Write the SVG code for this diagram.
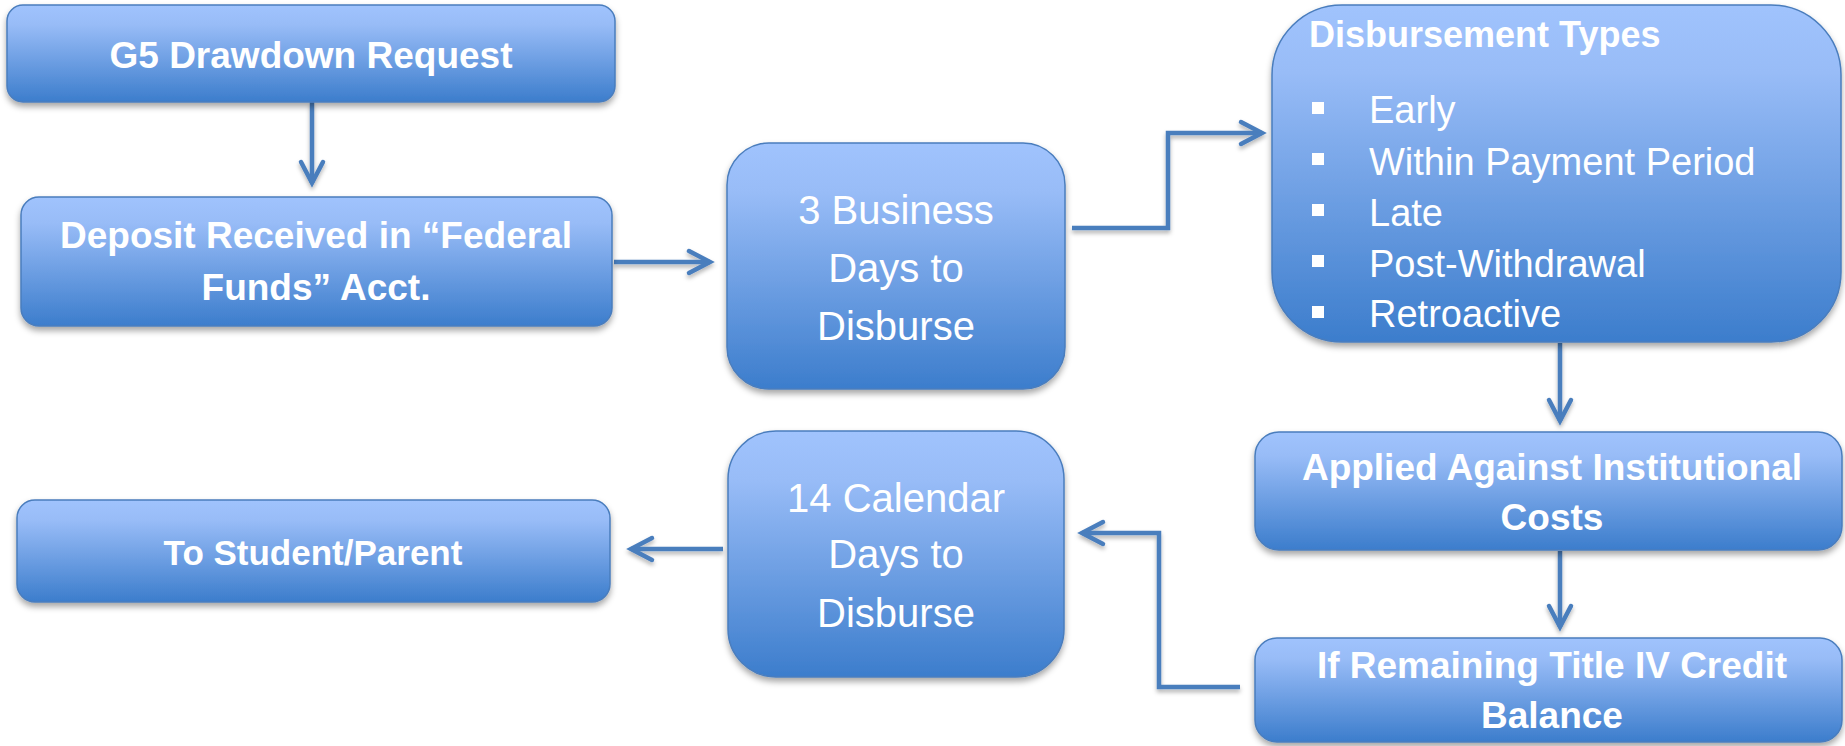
<svg xmlns="http://www.w3.org/2000/svg" width="1845" height="746" viewBox="0 0 1845 746">
<style>
.box{fill:url(#g);stroke:#4a7dbd;stroke-width:1.5;filter:url(#sh)}
.b{font-family:"Liberation Sans",Arial,sans-serif;font-weight:bold;font-size:37px;fill:#fff;text-anchor:middle}
.r{font-family:"Liberation Sans",Arial,sans-serif;font-size:40px;fill:#fff;text-anchor:middle}
.li{font-family:"Liberation Sans",Arial,sans-serif;font-size:38px;fill:#fff}
.c{fill:none;stroke:#4a7ebd;stroke-width:4.5;marker-end:url(#ah);filter:url(#sh2)}
.sq{fill:#fff}
</style>
<defs>
<linearGradient id="g" x1="0" y1="0" x2="0" y2="1">
<stop offset="0" stop-color="#a0c3fd"/>
<stop offset="0.2" stop-color="#98bcf7"/>
<stop offset="1" stop-color="#3c7dcc"/>
</linearGradient>
<filter id="sh" x="-10%" y="-10%" width="120%" height="130%">
<feDropShadow dx="0" dy="4" stdDeviation="3" flood-color="#000" flood-opacity="0.35"/>
</filter>
<filter id="sh2" filterUnits="userSpaceOnUse" x="0" y="0" width="1845" height="746">
<feDropShadow dx="0" dy="3" stdDeviation="2" flood-color="#000" flood-opacity="0.3"/>
</filter>
<marker id="ah" markerUnits="userSpaceOnUse" markerWidth="40" markerHeight="40" viewBox="-30 -20 40 40" refX="0" refY="0" orient="auto" overflow="visible">
<path d="M-21,-11 L0,0 L-21,11" fill="none" stroke="#4a7ebd" stroke-width="4.5" stroke-linecap="round" stroke-linejoin="miter"/>
</marker>
</defs>

<g id="connectors">
<path class="c" d="M312,102 V183"/>
<path class="c" d="M614,262 H710"/>
<path class="c" d="M1072,228 H1168 V133 H1262"/>
<path class="c" d="M1560,343 V421"/>
<path class="c" d="M1560,551 V627"/>
<path class="c" d="M1240,687 H1159 V533 H1082"/>
<path class="c" d="M723,549 H631"/>
</g>

<g id="g5">
<rect class="box" x="7" y="5" width="608" height="97" rx="16"/>
<text class="b" x="311" y="68">G5 Drawdown Request</text>
</g>

<g id="deposit">
<rect class="box" x="21" y="197" width="591" height="129" rx="18"/>
<text class="b" x="316" y="248">Deposit Received in “Federal</text>
<text class="b" x="316" y="300">Funds” Acct.</text>
</g>

<g id="bizdays">
<rect class="box" x="727" y="143" width="338" height="246" rx="42"/>
<text class="r" x="896" y="224">3 Business</text>
<text class="r" x="896" y="282">Days to</text>
<text class="r" x="896" y="340">Disburse</text>
</g>

<g id="types">
<rect class="box" x="1272" y="5" width="569" height="337" rx="70"/>
<text class="b" x="1309" y="47" style="text-anchor:start;font-size:36px">Disbursement Types</text>
<rect class="sq" x="1312" y="102" width="12" height="12"/>
<rect class="sq" x="1312" y="153" width="12" height="12"/>
<rect class="sq" x="1312" y="204" width="12" height="12"/>
<rect class="sq" x="1312" y="255" width="12" height="12"/>
<rect class="sq" x="1312" y="306" width="12" height="12"/>
<text class="li" x="1369" y="123">Early</text>
<text class="li" x="1369" y="175">Within Payment Period</text>
<text class="li" x="1369" y="226">Late</text>
<text class="li" x="1369" y="277">Post-Withdrawal</text>
<text class="li" x="1369" y="327">Retroactive</text>
</g>

<g id="applied">
<rect class="box" x="1255" y="432" width="587" height="118" rx="24"/>
<text class="b" x="1552" y="480">Applied Against Institutional</text>
<text class="b" x="1552" y="530">Costs</text>
</g>

<g id="remaining">
<rect class="box" x="1255" y="638" width="587" height="104" rx="22"/>
<text class="b" x="1552" y="678">If Remaining Title IV Credit</text>
<text class="b" x="1552" y="728">Balance</text>
</g>

<g id="caldays">
<rect class="box" x="728" y="431" width="336" height="246" rx="48"/>
<text class="r" x="896" y="512">14 Calendar</text>
<text class="r" x="896" y="568">Days to</text>
<text class="r" x="896" y="627">Disburse</text>
</g>

<g id="student">
<rect class="box" x="17" y="500" width="593" height="102" rx="18"/>
<text class="b" x="313" y="565" style="font-size:35px">To Student/Parent</text>
</g>
</svg>
